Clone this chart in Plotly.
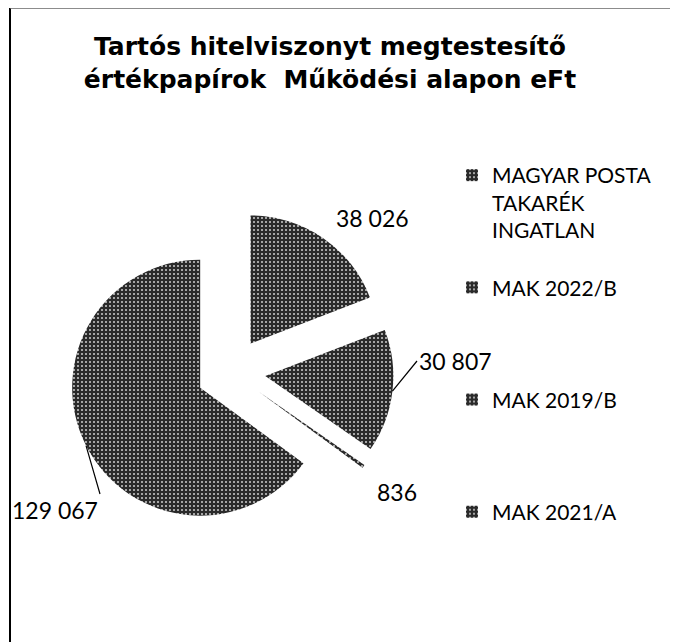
import math
import plotly.graph_objects as go

# ---- data ----
categories = ["MAGYAR POSTA TAKARÉK INGATLAN", "MAK 2022/B", "MAK 2019/B", "MAK 2021/A"]
values = [38026, 30807, 836, 129067]
title_lines = ["Tartós hitelviszonyt megtestesítő", "értékpapírok  Működési alapon eFt"]

# legend display names (line breaks / spacing for the legend only)
legend_names = [
    "MAGYAR POSTA<br>TAKARÉK<br>INGATLAN<br> ",
    "MAK 2022/B<br> <br> <br> ",
    "MAK 2019/B<br> <br> <br> ",
    "MAK 2021/A<br> <br> <br> ",
]

W, H = 678, 642
OFF = 8  # page offset of the figure in the screenshot (px)


def px(sx):
    return (sx - OFF) / W


def py(sy):
    return 1 - (sy - OFF) / H


# pie geometry (screen px)
cx, cy, r, pull = 231, 372, 128, 0.27
half = r * (1 + pull)
slice_color = "#2a2a2a"

fig = go.Figure(
    go.Pie(
        labels=legend_names,
        values=values,
        sort=False,
        direction="clockwise",
        rotation=0,
        pull=[pull] * 4,
        marker=dict(
            colors=[slice_color] * 4,
            line=dict(width=0),
            pattern=dict(shape=".", fgcolor="#cfcfcf", bgcolor=slice_color,
                         size=4, solidity=0.2),
        ),
        textinfo="none",
        domain=dict(
            x=[px(cx - half), px(cx + half)],
            y=[py(cy + half), py(cy - half)],
        ),
        hoverinfo="label+value",
    )
)

# slice mid angles (clockwise from 12 o'clock), derived from the values
total = sum(values)
mids = []
acc = 0.0
for v in values:
    mids.append((acc + v / 2) / total * 2 * math.pi)
    acc += v


def edge_point(i):
    a = mids[i]
    pcx = cx + pull * r * math.sin(a)
    pcy = cy - pull * r * math.cos(a)
    return pcx + r * math.sin(a), pcy - r * math.cos(a)


def fmt(v):
    return f"{v:,}".replace(",", " ")


label_font = dict(family="Lato", size=23, color="black")
annotations = []
# 38 026 (no leader)
annotations.append(dict(x=px(372), y=py(218), xref="paper", yref="paper", text=fmt(values[0]),
                        showarrow=False, font=label_font, xanchor="center", yanchor="middle"))
# 30 807 (leader line)
tx, ty = edge_point(1)
annotations.append(dict(x=px(tx), y=py(ty), xref="paper", yref="paper", text=fmt(values[1]),
                        showarrow=True, arrowhead=0, arrowwidth=1.2, arrowcolor="black",
                        ax=417 - tx, ay=361 - ty, xanchor="left", yanchor="middle",
                        font=label_font, standoff=0))
# 836 (no leader)
annotations.append(dict(x=px(397), y=py(492), xref="paper", yref="paper", text=fmt(values[2]),
                        showarrow=False, font=label_font, xanchor="center", yanchor="middle"))
# 129 067 (leader line)
tx, ty = edge_point(3)
annotations.append(dict(x=px(tx), y=py(ty), xref="paper", yref="paper", text=fmt(values[3]),
                        showarrow=True, arrowhead=0, arrowwidth=1.2, arrowcolor="black",
                        ax=100 - tx, ay=494 - ty, xanchor="right", yanchor="top",
                        font=label_font, standoff=0))

fig.update_layout(
    width=W,
    height=H,
    margin=dict(l=0, r=0, t=0, b=0, autoexpand=False),
    paper_bgcolor="white",
    plot_bgcolor="white",
    separators=", ",
    title=dict(
        text="<br>".join(title_lines),
        x=322 / W,
        xanchor="center",
        y=1 - 47 / H,
        yanchor="top",
        font=dict(family="DejaVu Sans", size=25, color="black", weight="bold"),
    ),
    showlegend=True,
    legend=dict(
        x=444 / W,
        xanchor="left",
        y=1 - 147 / H,
        yanchor="top",
        valign="top",
        font=dict(family="Lato", size=21, color="black"),
        bgcolor="rgba(0,0,0,0)",
        traceorder="normal",
    ),
    annotations=annotations,
    shapes=[
        dict(type="line", xref="paper", yref="paper", x0=px(10), x1=px(10), y0=py(650), y1=1,
             line=dict(color="black", width=2)),
        dict(type="line", xref="paper", yref="paper", x0=px(10), x1=1, y0=1, y1=1,
             line=dict(color="#666666", width=1.5)),
    ],
)

fig.write_html("out.html")
